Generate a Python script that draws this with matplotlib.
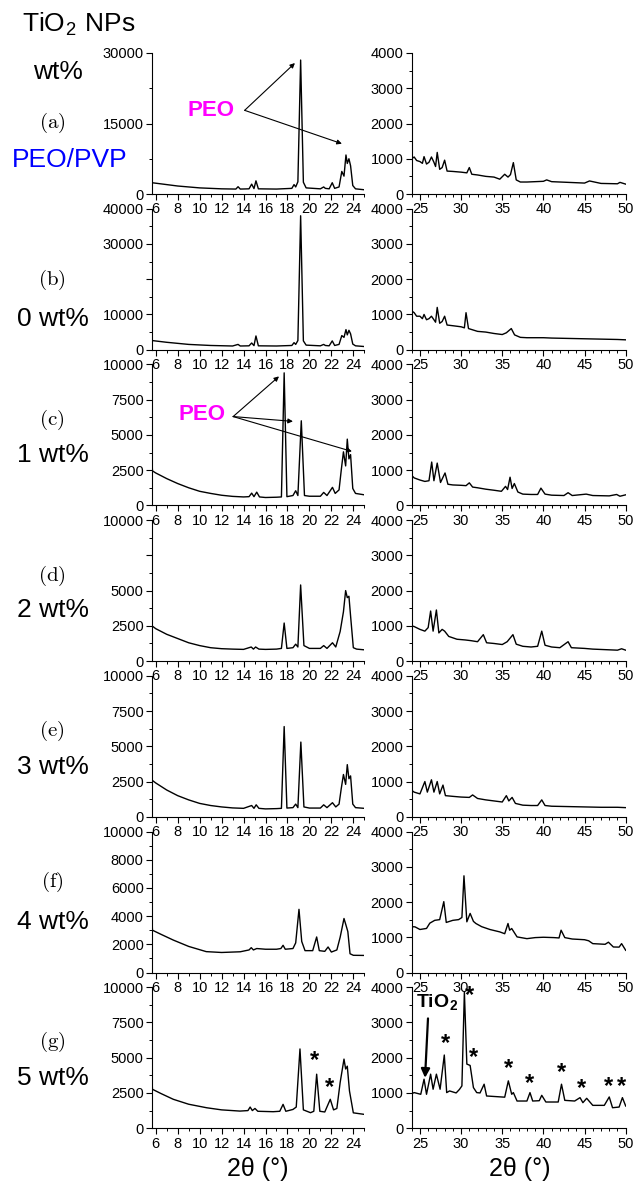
import matplotlib
matplotlib.use('Agg')
import matplotlib.pyplot as plt
from matplotlib.ticker import MultipleLocator, FuncFormatter

plt.rcParams['font.family'] = ['Liberation Sans', 'DejaVu Sans']
plt.rcParams['mathtext.fontset'] = 'cm'

# ---------------- data (2theta, intensity) ----------------
row_letters = ['(a)', '(b)', '(c)', '(d)', '(e)', '(f)', '(g)']
row_names = ['PEO/PVP', '0 wt%', '1 wt%', '2 wt%', '3 wt%', '4 wt%', '5 wt%']

left_ymax = [30000, 40000, 10000, 10000, 10000, 10000, 10000]
left_ystep = [15000, 10000, 2500, 2500, 2500, 2000, 2500]
left_hidden = [None, 20000, None, 7500, None, None, None]
left_xticks = [6, 8, 10, 12, 14, 16, 18, 20, 22, 24]
right_xticks = [25, 30, 35, 40, 45, 50]
right_yticks = [0, 1000, 2000, 3000, 4000]

a_left = [(5.66,2400),(6.5,2150),(8,1700),(10,1300),(12,1100),(13.3,1050),(13.5,1550),(13.7,1050),
          (14.5,1100),(14.74,2100),(14.95,1150),(15.13,2800),(15.35,1100),(17,1050),(18.4,1200),
          (18.6,2000),(18.75,1500),(18.95,2600),(19.2,28500),(19.45,2500),(19.7,1300),(21.0,1100),
          (21.3,1500),(21.45,1200),(21.8,1100),(22.08,2400),(22.3,1200),(22.7,1500),(22.95,4800),
          (23.15,3800),(23.33,8300),(23.45,6500),(23.6,7500),(23.75,6000),(23.95,1800),(24.2,1100),(25.0,900)]
a_right = [(24.0,1000),(24.3,1050),(24.6,950),(25.0,920),(25.3,870),(25.5,1060),(25.8,850),(26.1,900),
           (26.4,1050),(26.7,900),(26.9,780),(27.1,1180),(27.4,700),(27.7,750),(28.0,960),(28.3,650),
           (29,640),(30,620),(30.7,600),(31.0,750),(31.3,560),(32,540),(33,500),(34,480),(34.7,420),
           (35.3,560),(35.7,480),(36.0,550),(36.35,890),(36.7,400),(37.2,340),(38,340),(40,360),(40.4,400),
           (41,350),(43,330),(45,310),(45.6,370),(47,300),(49,290),(49.3,330),(50,280)]

b_left = [(5.66,2600),(7,2100),(9,1500),(11,1200),(13,1050),(13.5,1500),(13.7,1050),(14.5,1100),
          (14.74,1900),(14.95,1150),(15.13,3900),(15.35,1100),(17,1050),(18.4,1200),(18.6,2000),
          (18.75,1500),(18.95,2600),(19.2,38000),(19.45,2500),(19.7,1300),(21.0,1100),(21.3,1500),
          (21.45,1200),(21.8,1100),(22.08,2500),(22.3,1200),(22.7,1500),(22.95,4000),(23.15,3500),
          (23.33,5700),(23.45,4200),(23.6,5500),(23.75,4500),(23.95,1600),(24.2,1100),(25.0,900)]
b_right = [(24.0,1100),(24.3,1050),(24.6,950),(25.0,950),(25.3,880),(25.5,1000),(25.8,850),(26.1,880),
           (26.4,950),(26.7,850),(26.9,780),(27.1,1200),(27.4,750),(27.7,800),(28.0,950),(28.3,700),
           (29,680),(30,650),(30.4,620),(30.6,1050),(30.9,600),(32,520),(33,500),(34,460),(35,430),
           (35.5,480),(36.1,600),(36.5,420),(37.2,350),(38,340),(40,340),(41,330),(43,320),(45,310),
           (47,300),(49,290),(50,280)]

c_left = [(5.66,3100),(5.7,2450),(6.0,2300),(7,1900),(8,1550),(9,1250),(10,1000),(11,850),(12,720),
          (13,640),(14,600),(14.5,620),(14.74,870),(14.95,620),(15.2,940),(15.45,600),(16,560),(17,580),
          (17.45,600),(17.7,9400),(17.95,620),(18.5,700),(18.75,1040),(18.95,700),(19.26,6000),(19.55,700),
          (20,650),(21,650),(21.3,920),(21.6,700),(22.1,1280),(22.35,850),(22.7,1100),(22.9,2500),
          (23.1,3800),(23.3,2800),(23.45,4700),(23.6,3300),(23.75,3600),(23.95,1200),(24.2,850),(25,750)]
c_right = [(24.0,850),(24.3,780),(25,720),(25.6,680),(26.1,700),(26.43,1230),(26.7,700),(27.1,1200),
           (27.5,650),(28.05,920),(28.4,600),(29,580),(30,570),(30.6,560),(31.0,640),(31.4,520),(32,500),
           (33,460),(34,430),(34.9,400),(35.4,540),(35.65,450),(35.95,800),(36.2,480),(36.47,620),
           (36.9,380),(37.5,320),(38.5,310),(39.3,310),(39.7,490),(40.2,320),(41,290),(42.5,280),
           (43.0,360),(43.5,280),(45.2,320),(46,280),(48,270),(48.9,310),(49.3,260),(50,300)]

d_left = [(5.66,2500),(6,2300),(7,1900),(8,1600),(9,1300),(10,1100),(11,950),(12,880),(13,850),
          (14,830),(14.7,1000),(14.9,850),(15.1,1000),(15.4,850),(16,830),(17,850),(17.45,900),
          (17.7,2700),(17.95,900),(18.5,950),(18.75,1200),(18.95,1000),(19.2,5400),(19.5,1100),(20,900),
          (21,900),(21.3,1100),(21.6,900),(22.1,1300),(22.4,1000),(22.8,2100),(23.1,3500),(23.3,5000),
          (23.45,4500),(23.6,4600),(23.75,3200),(24.0,950),(24.3,850),(25,800)]
d_right = [(24.0,1000),(24.3,980),(25,900),(25.6,850),(26.0,950),(26.3,1420),(26.6,850),(27.0,1450),
           (27.3,800),(27.7,900),(28.0,850),(28.5,700),(29.5,620),(30.5,600),(31.2,580),(32,550),
           (32.7,750),(33.1,520),(34,500),(35,470),(35.6,550),(36.3,750),(36.7,480),(37.5,420),
           (38.5,400),(39.3,420),(39.8,850),(40.2,450),(41,400),(42,380),(43.0,550),(43.4,380),
           (45,360),(46,340),(47,330),(48,320),(49,310),(49.5,350),(50,310)]

e_left = [(5.66,2600),(6,2400),(7,1900),(8,1500),(9,1200),(10,950),(11,800),(12,700),(13,630),
          (14,600),(14.74,800),(14.95,600),(15.15,850),(15.4,600),(16,560),(17,580),(17.45,600),
          (17.7,6400),(17.95,620),(18.5,650),(18.75,900),(18.95,650),(19.22,5300),(19.5,700),(20,620),
          (21,620),(21.3,850),(21.6,650),(22.1,1000),(22.4,700),(22.7,900),(22.9,2000),(23.1,3000),
          (23.3,2300),(23.45,3700),(23.6,2700),(23.75,2900),(23.95,900),(24.2,650),(25,600)]
e_right = [(24.0,750),(24.3,700),(25,650),(25.6,1000),(25.9,700),(26.4,1050),(26.7,700),(27.1,1000),
           (27.4,650),(27.8,900),(28.1,600),(29,580),(30,560),(31,550),(31.4,620),(32,520),(33,480),
           (34,450),(35,420),(35.5,600),(35.8,450),(36.2,550),(36.6,380),(37.5,330),(38.5,320),
           (39.3,320),(39.8,480),(40.2,320),(41,300),(43,290),(45,280),(47,270),(49,270),(50,260)]

f_left = [(5.66,3700),(5.7,3000),(6.5,2700),(7.6,2300),(9,1850),(10.6,1480),(12,1420),(13.7,1470),
          (14.5,1600),(14.7,1760),(14.9,1600),(15.2,1700),(16,1650),(17,1650),(17.4,1700),(17.6,1930),
          (17.8,1650),(18.5,1700),(18.75,2100),(19.05,4480),(19.3,2200),(19.6,1550),(20.3,1550),
          (20.66,2520),(20.9,1550),(21.4,1500),(21.7,1810),(22.0,1450),(22.5,1600),(22.8,2500),
          (23.15,3830),(23.33,3360),(23.5,2900),(23.7,1330),(24.0,1220),(25,1210)]
f_right = [(24.0,1300),(24.4,1295),(25.0,1220),(25.8,1250),(26.2,1400),(26.8,1480),(27.4,1500),
           (27.9,2010),(28.2,1420),(29.0,1480),(29.7,1500),(30.1,1560),(30.35,2743),(30.7,1438),
           (31.1,1676),(31.5,1450),(31.8,1390),(32.5,1300),(33.5,1220),(34.7,1152),(35.3,1100),
           (35.7,1390),(35.9,1200),(36.15,1248),(36.8,1010),(38,960),(39,990),(40,1000),(41.3,990),
           (41.9,980),(42.15,1200),(42.6,990),(43.5,950),(45,930),(45.5,900),(46,819),(47.5,800),
           (47.9,860),(48.5,724),(49.2,720),(49.5,819),(50,630)]

g_left = [(5.66,3480),(5.7,2760),(6.5,2450),(7.6,2050),(9,1700),(10.64,1450),(12,1300),(13.67,1214),
          (14.4,1250),(14.6,1500),(14.8,1250),(15.04,1400),(15.3,1200),(16.7,1170),(17.3,1200),
          (17.6,1690),(17.85,1200),(18.5,1330),(18.8,1500),(19.14,5620),(19.45,1300),(20.1,1100),
          (20.4,1200),(20.66,3830),(20.95,1200),(21.4,1150),(21.9,2050),(22.2,1300),(22.5,1400),
          (22.8,3240),(23.15,4900),(23.3,4200),(23.45,4400),(23.65,2640),(24.0,1090),(25,980)]
g_right = [(24.0,980),(24.3,1010),(25.1,962),(25.5,1390),(25.8,962),(26.3,1533),(26.6,1105),(27.0,1533),
           (27.45,1105),(27.96,2076),(28.25,1010),(28.6,1057),(29.4,1000),(29.8,1100),(30.1,1200),
           (30.4,3866),(30.7,1819),(31.1,1780),(31.5,1152),(31.9,1010),(32.3,1000),(32.8,1248),
           (33.1,914),(34,900),(35.3,880),(35.74,1343),(36.15,962),(36.35,1010),(36.8,771),(38.0,771),
           (38.37,1010),(38.7,771),(39.5,780),(39.8,933),(40.3,743),(41.8,743),(42.2,1248),(42.6,790),
           (43.8,771),(44.45,867),(44.8,724),(45.26,848),(46,648),(47.4,648),(48.0,886),(48.4,581),
           (49.2,600),(49.6,867),(50,629)]

left_data = [a_left, b_left, c_left, d_left, e_left, f_left, g_left]
right_data = [a_right, b_right, c_right, d_right, e_right, f_right, g_right]

# annotation anchors (data coordinates)
peo_a_text = (11.0, 17800)
peo_a_tips = [(18.68, 27860), (22.96, 10700)]
peo_c_text = (10.2, 6450)
peo_c_tips = [(17.23, 9150), (18.5, 5960), (23.87, 3830)]
tio2_text = (27.1, 3550)
tio2_tip = (25.62, 1430)
star_right = [(31.08, 3771), (28.05, 2400), (31.45, 2000), (35.82, 1686), (38.37, 1257),
              (42.26, 1571), (44.69, 1114), (47.85, 1171), (49.55, 1171)]
star_left = [(20.5, 4786), (21.87, 2857)]

# ---------------- figure ----------------
W, H = 636, 1183
fig = plt.figure(figsize=(W / 100, H / 100), dpi=100)


def fx(px):
    return px / W


def fy(py):
    return 1 - py / H


def style(ax):
    for s in ('top', 'right'):
        ax.spines[s].set_visible(False)
    for s in ('left', 'bottom'):
        ax.spines[s].set_linewidth(0.8)
    ax.tick_params(which='major', direction='out', length=4, width=0.8, labelsize=10.5, pad=2)
    ax.tick_params(which='minor', direction='out', length=2.5, width=0.7)
    ax.patch.set_alpha(0)


LX0, LX1 = 152, 364.3
RX0, RX1 = 411.7, 625.7
TOP0, STEP, HT = 53, 155.7, 141

axes_left, axes_right = [], []
for i in range(7):
    top = TOP0 + STEP * i
    axl = fig.add_axes([fx(LX0), fy(top + HT), fx(LX1 - LX0), HT / H])
    axr = fig.add_axes([fx(RX0), fy(top + HT), fx(RX1 - RX0), HT / H])
    style(axl)
    style(axr)
    xs, ys = zip(*left_data[i])
    axl.plot(xs, ys, color='black', lw=1.0)
    xs, ys = zip(*right_data[i])
    axr.plot(xs, ys, color='black', lw=1.0)

    axl.set_xlim(5.66, 25)
    axl.set_ylim(0, left_ymax[i])
    axl.set_xticks(left_xticks)
    axl.xaxis.set_minor_locator(MultipleLocator(1))
    axl.yaxis.set_major_locator(MultipleLocator(left_ystep[i]))
    axl.yaxis.set_minor_locator(MultipleLocator(left_ystep[i] / 2))
    hid = left_hidden[i]
    axl.yaxis.set_major_formatter(FuncFormatter(
        lambda v, p, hid=hid: '' if hid is not None and abs(v - hid) < 1 else '%d' % v))

    axr.set_xlim(24, 50)
    axr.set_ylim(0, 4000)
    axr.set_xticks(right_xticks)
    axr.xaxis.set_minor_locator(MultipleLocator(1))
    axr.set_yticks(right_yticks)
    axr.yaxis.set_minor_locator(MultipleLocator(500))
    axes_left.append(axl)
    axes_right.append(axr)

arrow_kw = dict(arrowstyle='-|>', color='black', lw=0.8, mutation_scale=7, shrinkA=0, shrinkB=0)

# (a) PEO
ax = axes_left[0]
ax.text(*peo_a_text, 'PEO', color='#FF00FF', fontsize=16, fontweight='bold', ha='center', va='center')
start = (peo_a_text[0] + 3.1, peo_a_text[1])
for tip in peo_a_tips:
    ax.annotate('', xy=tip, xytext=start, arrowprops=arrow_kw, annotation_clip=False)

# (c) PEO
ax = axes_left[2]
ax.text(*peo_c_text, 'PEO', color='#FF00FF', fontsize=16, fontweight='bold', ha='center', va='center')
start = (peo_c_text[0] + 2.85, peo_c_text[1] - 150)
for tip in peo_c_tips:
    ax.annotate('', xy=tip, xytext=start, arrowprops=arrow_kw, annotation_clip=False)

# (g) TiO2 and stars
ax = axes_right[6]
ax.text(*tio2_text, 'TiO$_\\mathregular{2}$', fontsize=14, fontweight='bold', ha='center', va='center')
ax.annotate('', xy=tio2_tip, xytext=(25.98, 3114),
            arrowprops=dict(arrowstyle='-|>', color='black', lw=1.6, mutation_scale=13, shrinkA=0, shrinkB=0))
for (x, y) in star_right:
    ax.text(x, y, '*', fontsize=17, fontweight='bold', ha='center', va='center')
for (x, y) in star_left:
    axes_left[6].text(x, y, '*', fontsize=17, fontweight='bold', ha='center', va='center')

# left column labels
fig.text(fx(79), fy(24), 'TiO$_\\mathregular{2}$ NPs', fontsize=19, ha='center', va='center')
fig.text(fx(58), fy(72), 'wt%', fontsize=19, ha='center', va='center')
letter_y = [123, 280, 420, 576, 731, 882, 1042]
name_y = [160, 319, 455, 610, 767, 922, 1078]
for i in range(7):
    fig.text(fx(52), fy(letter_y[i]), '$\\mathrm{' + row_letters[i] + '}$', fontsize=15,
             ha='center', va='center')
    if i == 0:
        fig.text(fx(70), fy(name_y[i]), row_names[i], fontsize=19, color='#0000FF',
                 ha='center', va='center')
    else:
        fig.text(fx(53), fy(name_y[i]), row_names[i], fontsize=19, ha='center', va='center')

fig.text(fx(258), fy(1169), '2θ (°)', fontsize=18, ha='center', va='center')
fig.text(fx(520), fy(1169), '2θ (°)', fontsize=18, ha='center', va='center')

fig.savefig('out.png', dpi=100)
